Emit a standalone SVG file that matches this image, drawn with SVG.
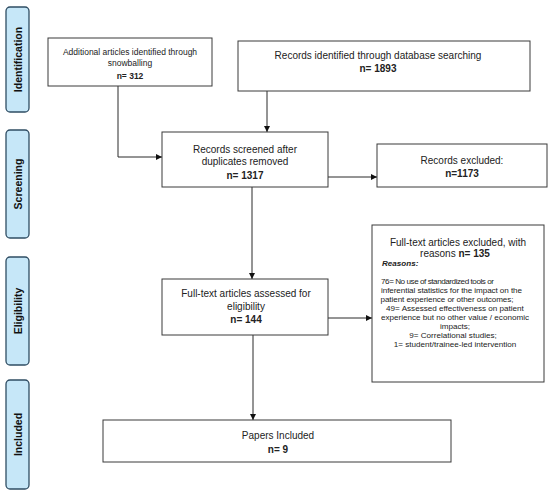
<svg xmlns="http://www.w3.org/2000/svg" width="550" height="494" viewBox="0 0 550 494">
<style>
.phase{fill:#c6e7f8;stroke:#2f4d63;stroke-width:1.3}
.pt{font-family:"Liberation Sans",Arial,sans-serif;font-size:10.5px;font-weight:bold;fill:#111;text-anchor:middle}
.box{fill:#fff;stroke:#3a3a3a;stroke-width:1}
.t{font-family:"Liberation Sans",Arial,sans-serif;font-size:10px;fill:#222;text-anchor:middle}
.s{font-family:"Liberation Sans",Arial,sans-serif;font-size:8.5px;fill:#222;text-anchor:middle}
.r{font-family:"Liberation Sans",Arial,sans-serif;font-size:8.1px;fill:#222}
.b{font-weight:bold}
.conn{fill:none;stroke:#2a2a2a;stroke-width:1}
</style>
<defs>
<marker id="ah" viewBox="0 0 10 10" refX="10" refY="5" markerWidth="6" markerHeight="6" markerUnits="userSpaceOnUse" orient="auto">
<path d="M0,0 L10,5 L0,10 z" fill="#111"/>
</marker>
</defs>
<rect width="550" height="494" fill="#fff"/>
<g id="phase-identification"><rect class="phase" x="6" y="7" width="23" height="105" rx="4"/><text class="pt" transform="translate(21.5,59.5) rotate(-90)">Identification</text></g>
<g id="phase-screening"><rect class="phase" x="6" y="130" width="23" height="108" rx="4"/><text class="pt" transform="translate(21.5,184) rotate(-90)">Screening</text></g>
<g id="phase-eligibility"><rect class="phase" x="6" y="257" width="23" height="108" rx="4"/><text class="pt" transform="translate(21.5,311) rotate(-90)">Eligibility</text></g>
<g id="phase-included"><rect class="phase" x="6" y="380" width="23" height="109" rx="4"/><text class="pt" transform="translate(21.5,434.5) rotate(-90)">Included</text></g>

<g id="connectors">
<path class="conn" d="M118,86 V157 H162" marker-end="url(#ah)"/>
<path class="conn" d="M267,91 V132" marker-end="url(#ah)"/>
<path class="conn" d="M328,177 H377" marker-end="url(#ah)"/>
<path class="conn" d="M252,187 V279" marker-end="url(#ah)"/>
<path class="conn" d="M328,318 H372" marker-end="url(#ah)"/>
<path class="conn" d="M253,335 V420" marker-end="url(#ah)"/>
</g>

<g id="node-additional"><rect class="box" x="48" y="38" width="164" height="48"/>
<text class="s" x="130" y="55">Additional articles identified through</text>
<text class="s" x="130" y="66">snowballing</text>
<text class="s b" x="130" y="79">n= 312</text></g>

<g id="node-database"><rect class="box" x="238" y="41" width="292" height="50"/>
<text class="t" x="378" y="59">Records identified through database searching</text>
<text class="t b" x="378" y="72">n= 1893</text></g>

<g id="node-screened"><rect class="box" x="162" y="132" width="166" height="55"/>
<text class="t" x="245" y="152.5">Records screened after</text>
<text class="t" x="245" y="165">duplicates removed</text>
<text class="t b" x="245" y="179">n= 1317</text></g>

<g id="node-excluded"><rect class="box" x="377" y="144" width="170" height="43"/>
<text class="t" x="462" y="163.5">Records excluded:</text>
<text class="t b" x="462" y="176.5">n=1173</text></g>

<g id="node-assessed"><rect class="box" x="162" y="279" width="166" height="56"/>
<text class="t" x="246" y="297">Full-text articles assessed for</text>
<text class="t" x="246" y="310">eligibility</text>
<text class="t b" x="246" y="323">n= 144</text></g>

<g id="node-fulltext-excluded"><rect class="box" x="372" y="225" width="172" height="157"/>
<text class="t" x="458" y="245.5">Full-text articles excluded, with</text>
<text class="t" x="455" y="257">reasons <tspan class="b">n= 135</tspan></text>
<text class="r b" x="382" y="266" font-style="italic">Reasons:</text>
<text class="r" x="381" y="284" textLength="113">76= No use of standardized tools or</text>
<text class="r" x="381" y="293" textLength="141">inferential statistics for the impact on the</text>
<text class="r" x="380.5" y="302" textLength="133">patient experience or other outcomes;</text>
<text class="r" x="455" y="311" text-anchor="middle">49= Assessed effectiveness on patient</text>
<text class="r" x="455" y="320" text-anchor="middle">experience but no other value / economic</text>
<text class="r" x="455" y="329" text-anchor="middle">impacts;</text>
<text class="r" x="453" y="338" text-anchor="middle">9= Correlational studies;</text>
<text class="r" x="455" y="347" text-anchor="middle">1= student/trainee-led intervention</text></g>

<g id="node-included"><rect class="box" x="103" y="420" width="348" height="42"/>
<text class="t" x="278" y="439">Papers Included</text>
<text class="t b" x="278" y="453">n= 9</text></g>
</svg>
